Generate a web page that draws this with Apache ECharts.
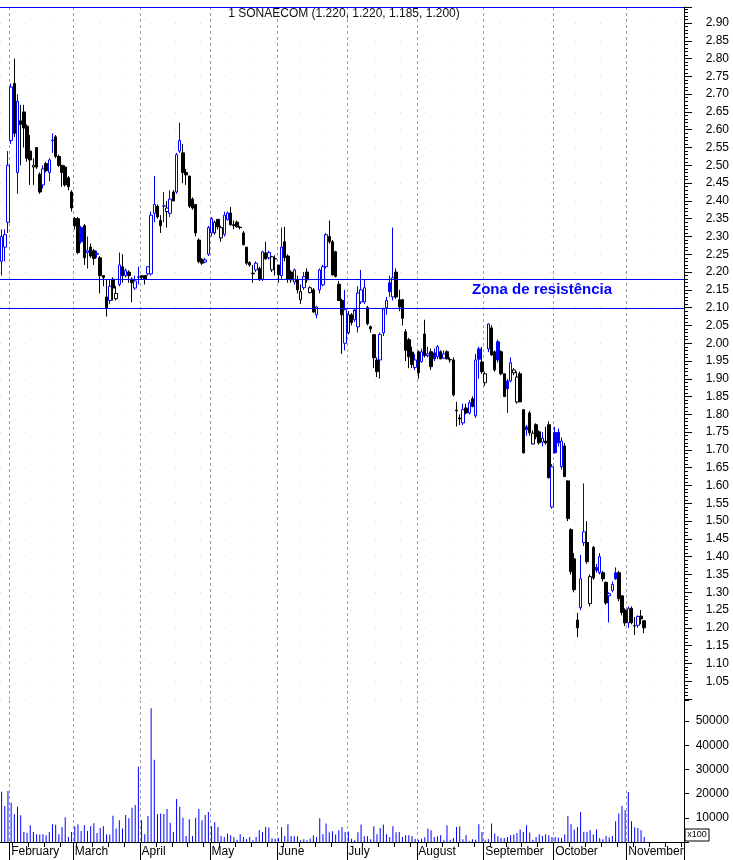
<!DOCTYPE html>
<html><head><meta charset="utf-8">
<script src="https://cdn.jsdelivr.net/npm/echarts@6/dist/echarts.min.js"></script>
<style>html,body{margin:0;padding:0;background:#fff}#c{width:733px;height:860px}</style>
</head><body><div id="c"></div>
<script>
const monthNames = ['January','February','March','April','May','June','July','August','September','October','November'];
const monthSlots = [3,20,21,22,21,22,22,21,22,23,18];

const openP = [2.23,2.27,2.34,2.57,2.73,2.48,2.625,2.65,2.61,2.54,
2.495,2.55,2.475,2.445,2.505,2.48,2.569,2.58,2.525,2.50,
2.495,2.465,2.425,2.35,2.35,2.325,2.33,2.255,2.27,2.26,
2.25,2.24,2.19,2.13,2.12,2.18,2.125,2.165,2.215,2.19,
2.20,2.18,2.155,2.185,2.19,2.19,2.195,2.195,2.365,2.385,
2.345,2.385,2.37,2.365,2.425,2.425,2.54,2.535,2.48,2.47,
2.405,2.39,2.29,2.235,2.228,2.25,2.31,2.31,2.348,2.296,
2.306,2.347,2.366,2.333,2.34,2.326,2.31,2.27,2.227,2.197,
2.206,2.21,2.18,2.254,2.24,2.206,2.238,2.22,2.19,2.285,
2.245,2.20,2.172,2.178,2.122,2.156,2.20,2.142,2.15,2.08,
2.15,2.164,2.215,2.30,2.285,2.257,2.166,2.12,2.00,2.03,
2.08,2.066,2.046,2.116,2.116,2.10,2.046,2.024,1.953,1.953,
2.029,2.10,2.17,2.13,2.20,2.122,2.122,2.032,2.01,1.975,
1.932,1.976,1.948,2.026,1.965,1.976,1.973,1.962,1.976,1.958,
1.976,1.954,1.953,1.812,1.79,1.776,1.818,1.804,1.844,1.796,
1.984,1.947,1.889,1.984,2.043,1.976,2.004,1.976,1.914,1.894,
1.894,1.917,1.835,1.914,1.813,1.765,1.804,1.717,1.771,1.751,
1.722,1.725,1.771,1.54,1.749,1.75,1.653,1.711,1.613,1.476,
1.394,1.222,1.257,1.44,1.44,1.268,1.426,1.37,1.355,1.355,
1.328,1.29,1.305,1.355,1.355,1.29,1.25,1.214,1.255,1.206,
1.207,1.233,1.22];
const highP = [2.32,2.32,2.54,2.73,2.80,2.70,2.67,2.67,2.615,2.585,
2.52,2.55,2.48,2.50,2.51,2.52,2.59,2.585,2.53,2.50,
2.50,2.47,2.43,2.355,2.355,2.33,2.335,2.30,2.28,2.265,
2.26,2.245,2.19,2.18,2.18,2.185,2.16,2.255,2.25,2.21,
2.205,2.185,2.19,2.215,2.19,2.19,2.215,2.37,2.47,2.39,
2.36,2.425,2.40,2.43,2.43,2.535,2.62,2.56,2.49,2.47,
2.41,2.39,2.295,2.24,2.24,2.33,2.355,2.345,2.35,2.33,
2.37,2.37,2.383,2.345,2.345,2.33,2.315,2.27,2.23,2.22,
2.23,2.215,2.26,2.285,2.26,2.245,2.247,2.22,2.325,2.327,
2.25,2.205,2.21,2.19,2.165,2.20,2.21,2.16,2.155,2.105,
2.21,2.22,2.31,2.345,2.29,2.26,2.175,2.125,2.15,2.09,
2.085,2.09,2.16,2.206,2.18,2.105,2.05,2.025,1.96,2.03,
2.10,2.13,2.19,2.325,2.21,2.15,2.125,2.04,2.015,1.99,
1.97,1.98,1.985,2.066,1.99,1.985,1.985,1.995,1.98,1.98,
1.98,1.96,1.96,1.835,1.80,1.83,1.83,1.84,1.85,1.97,
1.99,1.99,1.92,2.055,2.05,1.98,2.01,1.98,1.915,1.90,
1.96,1.93,1.92,1.92,1.815,1.77,1.81,1.755,1.775,1.755,
1.75,1.765,1.78,1.66,1.765,1.76,1.735,1.72,1.615,1.48,
1.41,1.242,1.405,1.606,1.50,1.35,1.43,1.38,1.41,1.36,
1.33,1.30,1.33,1.37,1.36,1.29,1.255,1.26,1.26,1.23,
1.235,1.25,1.22];
const lowP = [2.19,2.23,2.31,2.56,2.58,2.42,2.50,2.55,2.51,2.445,
2.445,2.49,2.42,2.435,2.48,2.455,2.535,2.52,2.495,2.44,
2.44,2.43,2.37,2.32,2.25,2.28,2.22,2.21,2.24,2.22,
2.24,2.14,2.16,2.075,2.11,2.12,2.12,2.16,2.17,2.185,
2.17,2.115,2.15,2.165,2.18,2.165,2.19,2.19,2.34,2.35,
2.31,2.34,2.325,2.355,2.40,2.42,2.535,2.45,2.445,2.38,
2.375,2.30,2.225,2.22,2.225,2.245,2.30,2.305,2.32,2.285,
2.30,2.345,2.33,2.32,2.325,2.32,2.275,2.22,2.215,2.17,
2.20,2.175,2.175,2.235,2.235,2.20,2.19,2.17,2.18,2.23,
2.17,2.17,2.165,2.14,2.11,2.15,2.17,2.14,2.085,2.07,
2.14,2.16,2.21,2.28,2.19,2.185,2.12,1.97,1.98,2.025,
2.05,2.06,2.03,2.11,2.11,2.05,2.03,1.93,1.905,1.90,
2.02,2.08,2.13,2.12,2.125,2.09,2.05,1.95,1.93,1.93,
1.925,1.90,1.945,1.96,1.96,1.925,1.95,1.955,1.955,1.955,
1.955,1.945,1.85,1.766,1.77,1.77,1.80,1.80,1.82,1.79,
1.90,1.914,1.88,1.975,1.965,1.92,1.945,1.91,1.85,1.804,
1.89,1.91,1.83,1.835,1.69,1.74,1.74,1.715,1.73,1.715,
1.71,1.715,1.62,1.535,1.69,1.71,1.645,1.625,1.50,1.35,
1.30,1.174,1.25,1.43,1.38,1.26,1.335,1.355,1.35,1.33,
1.265,1.215,1.30,1.335,1.275,1.235,1.205,1.20,1.21,1.18,
1.20,1.21,1.185];
const closeP = [2.30,2.305,2.50,2.72,2.59,2.68,2.615,2.605,2.52,2.515,
2.50,2.495,2.425,2.49,2.485,2.515,2.571,2.525,2.50,2.48,
2.445,2.44,2.38,2.33,2.255,2.285,2.24,2.26,2.245,2.238,
2.252,2.19,2.185,2.10,2.16,2.155,2.14,2.22,2.19,2.205,
2.19,2.17,2.175,2.187,2.185,2.18,2.215,2.36,2.39,2.355,
2.33,2.386,2.38,2.405,2.40,2.53,2.57,2.48,2.473,2.385,
2.38,2.31,2.23,2.225,2.234,2.325,2.35,2.34,2.327,2.325,
2.36,2.366,2.333,2.331,2.327,2.325,2.277,2.225,2.22,2.195,
2.225,2.18,2.257,2.237,2.255,2.243,2.237,2.192,2.27,2.24,
2.18,2.178,2.206,2.15,2.145,2.187,2.178,2.156,2.088,2.102,
2.206,2.215,2.305,2.285,2.192,2.188,2.12,2.08,2.094,2.08,
2.058,2.094,2.141,2.15,2.156,2.055,2.04,1.959,1.92,2.025,
2.096,2.12,2.145,2.184,2.13,2.102,2.07,1.98,1.962,1.94,
1.953,1.917,1.976,1.965,1.97,1.934,1.956,1.99,1.956,1.97,
1.956,1.953,1.855,1.81,1.787,1.813,1.804,1.833,1.822,1.953,
1.955,1.92,1.914,2.054,1.967,1.925,1.953,1.914,1.85,1.872,
1.945,1.925,1.905,1.835,1.692,1.757,1.748,1.747,1.737,1.72,
1.733,1.72,1.622,1.653,1.692,1.72,1.725,1.625,1.507,1.358,
1.307,1.20,1.338,1.47,1.386,1.344,1.34,1.362,1.40,1.338,
1.27,1.296,1.322,1.338,1.282,1.243,1.214,1.255,1.214,1.205,
1.232,1.225,1.20];
const volume = [20800,14860,21100,16250,11500,14600,11100,4170,3750,6950,
4170,3200,3060,3200,2780,4170,7360,7080,3200,6250,
10280,2080,4170,6530,7360,4580,6950,4580,6530,7780,
3750,5830,6530,3200,3060,10830,5560,9030,5560,11110,
9860,14170,15280,31100,9030,3200,10700,55300,34030,11530,
11800,11530,13600,7920,4170,17780,14580,10000,2500,9440,
2500,10000,13610,9030,11110,12360,6530,8200,6250,2500,
2080,3470,2780,2080,970,3200,2080,1250,2080,700,
2080,4860,4170,6250,5970,1500,1390,1670,6110,2500,7360,
2500,2360,2360,700,1110,700,1390,2780,2080,9860,
3200,7640,4030,4440,3060,4860,6250,4170,4310,1390,
700,4030,7220,2360,2360,1110,6530,3200,5830,7220,
3200,2080,6530,4030,4170,2080,2780,2780,2500,1250,
970,1390,2000,5560,4860,2080,2360,2780,700,6950,970,
1670,6250,6530,1110,2780,420,1110,970,7360,4170,
700,1250,7640,3470,2360,1670,1670,2080,2780,3060,
3750,5140,4170,6950,3890,970,2080,3200,2500,3200,
2780,2080,2080,1810,1670,3060,10700,7360,5140,6250,
12360,4170,4170,4860,3060,5140,1670,1110,2500,1940,
2500,8610,11800,14860,13190,20700,8610,6110,5830,4860,
2080];
const resistanceLevels = [2.18, 2.10];
const resistanceText = 'Zona de resistência';
const tickerName = '1 SONAECOM';
const priceTop = 2.945;

// categories: one slot per trading day, labelled by month
const categories = [];
const monthStart = new Set();
monthSlots.forEach((n, m) => {
  monthStart.add(categories.length);
  for (let k = 0; k < n; k++) categories.push(monthNames[m]);
});
const labelIdx = new Set([...monthStart].filter(i => i > 0));

const BLUE = '#0000ff', BLACK = '#000000';
const candleData = closeP.map((c, i) => {
  const prev = i > 0 ? closeP[i - 1] : openP[i];
  const col = c >= prev ? BLUE : BLACK;
  const fill = c > openP[i] ? '#ffffff' : col;
  return { value: [openP[i], c, lowP[i], highP[i]],
    itemStyle: { color: fill, color0: fill, borderColor: col, borderColor0: col, borderWidth: 1 } };
});

const n = closeP.length;
const title = `${tickerName} (${openP[n-1].toFixed(3)}, ${highP[n-1].toFixed(3)}, ${lowP[n-1].toFixed(3)}, ${closeP[n-1].toFixed(3)})`;

const FONT = 'Liberation Sans';
const chart = echarts.init(document.getElementById('c'), null, { renderer: 'canvas' });
const monthSplit = { show: true, interval: (i) => labelIdx.has(i), lineStyle: { color: '#a0a0a0', type: [3, 3], width: 1 } };

chart.setOption({
  animation: false,
  backgroundColor: '#ffffff',
  grid: [
    { left: 0, right: 49, top: 7, height: 692 },
    { left: 0, right: 49, top: 700, height: 142 }
  ],
  xAxis: [
    { type: 'category', gridIndex: 0, data: categories, boundaryGap: true, position: 'bottom',
      axisLine: { show: false },
      axisTick: { show: false }, axisLabel: { show: false }, splitLine: monthSplit },
    { type: 'category', gridIndex: 1, data: categories, boundaryGap: true, position: 'bottom',
      axisLine: { show: true, lineStyle: { color: BLACK, width: 1 } },
      axisTick: { show: true, interval: (i) => labelIdx.has(i), length: 18, lineStyle: { color: BLACK } },
      axisLabel: { show: true, interval: (i) => labelIdx.has(i), align: 'left', margin: 4,
        fontFamily: FONT, fontSize: 12, color: BLACK },
      splitLine: monthSplit },
    { type: 'category', gridIndex: 1, data: categories, boundaryGap: true, position: 'bottom',
      axisLine: { show: false },
      axisTick: { show: true, interval: (i) => i % 5 === 4 && !labelIdx.has(i), length: 5, lineStyle: { color: BLACK } },
      axisLabel: { show: false }, splitLine: { show: false } }
  ],
  yAxis: [
    { type: 'value', gridIndex: 0, position: 'right', min: 1.0, max: priceTop, interval: 0.05,
      axisLine: { show: true, lineStyle: { color: BLACK } },
      axisTick: { show: true, length: 8, lineStyle: { color: BLACK } },
      minorTick: { show: true, splitNumber: 5, length: 4, lineStyle: { color: BLACK } },
      axisLabel: { show: true, align: 'right', margin: 45, fontFamily: FONT, fontSize: 12, color: BLACK,
        formatter: (v) => (v < 1.04 || v > 2.905) ? '' : v.toFixed(2) },
      splitLine: { show: true, lineStyle: { color: '#ecc8ec', type: [1, 24], width: 1 } } },
    { type: 'value', gridIndex: 1, position: 'right', min: 0, max: 58700, interval: 10000,
      axisLine: { show: true, lineStyle: { color: BLACK } },
      axisTick: { show: true, length: 5, lineStyle: { color: BLACK } },
      axisLabel: { show: true, align: 'right', margin: 45, fontFamily: FONT, fontSize: 12, color: BLACK,
        formatter: (v) => (v <= 0 || v > 50000) ? '' : String(v) },
      splitLine: { show: false } }
  ],
  series: [
    { type: 'candlestick', xAxisIndex: 0, yAxisIndex: 0, data: candleData, barWidth: 3 },
    { type: 'bar', xAxisIndex: 1, yAxisIndex: 1, data: volume, barWidth: 1,
      itemStyle: { color: BLUE } }
  ]
});

// horizontal reference lines (top border and resistance zone), positioned through the price axis
const gridRect = chart.getModel().getComponent('grid', 0).coordinateSystem.getRect();
const hLines = [priceTop, ...resistanceLevels].map((v, k) => {
  const y = Math.round(chart.convertToPixel({ yAxisIndex: 0 }, v)) + 0.5;
  return { type: 'line', id: 'hl' + k, z: 20, silent: true,
    shape: { x1: gridRect.x, y1: y, x2: gridRect.x + gridRect.width, y2: y },
    style: { stroke: BLUE, lineWidth: 1 } };
});
chart.setOption({ graphic: [
  ...hLines,
  { type: 'text', id: 'title', x: 344, y: 8, z: 30,
    style: { text: title, textAlign: 'center', fontFamily: FONT, fontSize: 12, fill: '#111' } },
  { type: 'text', id: 'zona', x: 472, y: 282, z: 30,
    style: { text: resistanceText, fontFamily: FONT, fontSize: 15, fontWeight: 'bold', fill: BLUE } },
  { type: 'group', id: 'x100', x: 685, y: 829, z: 30, children: [
    { type: 'rect', shape: { x: 0, y: 0, width: 24, height: 12 }, style: { fill: '#fff', stroke: BLACK, lineWidth: 1 } },
    { type: 'text', style: { text: 'x100', x: 12, y: 6, textAlign: 'center', textVerticalAlign: 'middle', fontFamily: FONT, fontSize: 9, fill: BLACK } }
  ] }
] });
</script>
</body></html>
